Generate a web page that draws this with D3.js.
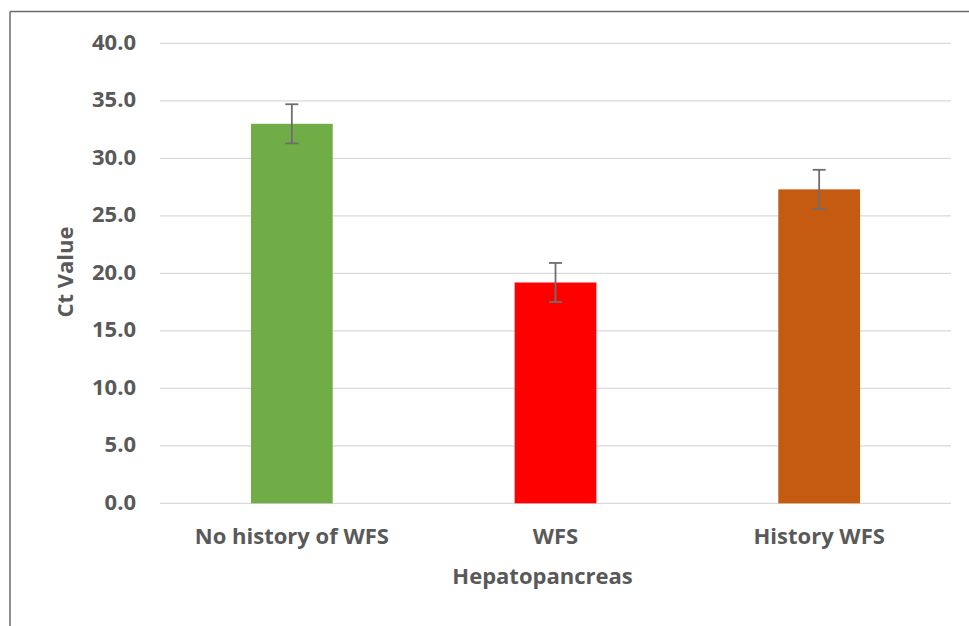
<!DOCTYPE html>
<html>
<head>
<meta charset="utf-8">
<script src="https://cdn.jsdelivr.net/npm/d3@7"></script>
<style>
  html, body { margin: 0; padding: 0; background: #fff; }
  svg { display: block; }
  text { font-family: "Open Sans", "DejaVu Sans", sans-serif; font-weight: bold; fill: #595959; }
</style>
</head>
<body>
<svg id="chart" width="969" height="626"></svg>
<script>
const categories = ["No history of WFS", "WFS", "History WFS"];
const values = [33.0, 19.2, 27.3];
const errors = [1.7, 1.7, 1.7];
const colors = ["#70AD47", "#FF0000", "#C55A11"];
const yTicks = [0, 5, 10, 15, 20, 25, 30, 35, 40];
const yTitle = "Ct Value";
const xTitle = "Hepatopancreas";

const svg = d3.select("#chart");
const W = 969, H = 626;

// frame (top and left edges visible)
svg.append("line").attr("x1", 10).attr("x2", W).attr("y1", 11.5).attr("y2", 11.5)
  .attr("stroke", "#6b6b6b").attr("stroke-width", 1.5);
svg.append("line").attr("x1", 10).attr("x2", 10).attr("y1", 11.5).attr("y2", H)
  .attr("stroke", "#6b6b6b").attr("stroke-width", 1.5);

const plot = { left: 160, right: 951, top: 43.3, bottom: 503.3 };

const x = d3.scaleBand().domain(categories).range([plot.left, plot.right]).padding(0);
const y = d3.scaleLinear().domain([0, 40]).range([plot.bottom, plot.top]);

// gridlines
svg.append("g").selectAll("line").data(yTicks).join("line")
  .attr("x1", plot.left).attr("x2", plot.right)
  .attr("y1", d => y(d)).attr("y2", d => y(d))
  .attr("stroke", "#d9d9d9").attr("stroke-width", 1.2);

// y axis labels
const yAxis = d3.axisLeft(y).tickValues(yTicks).tickFormat(d3.format(".1f")).tickSize(0).tickPadding(0);
const gy = svg.append("g").attr("transform", "translate(136,0)").call(yAxis);
gy.select(".domain").remove();
gy.selectAll("text").attr("font-size", 22).attr("dy", "0.28em")
  .style("font-family", '"Open Sans", sans-serif').style("font-weight", "bold").attr("fill", "#595959");

// bars
const barW = x.bandwidth() * 0.31;
const data = categories.map((c, i) => ({ c, v: values[i], e: errors[i], col: colors[i] }));
svg.append("g").selectAll("rect").data(data).join("rect")
  .attr("x", d => x(d.c) + x.bandwidth() / 2 - barW / 2)
  .attr("width", barW)
  .attr("y", d => y(d.v))
  .attr("height", d => y(0) - y(d.v))
  .attr("fill", d => d.col);

// error bars
const eg = svg.append("g").attr("stroke", "#6e6e6e").attr("stroke-width", 1.8).attr("fill", "none");
data.forEach(d => {
  const cx = x(d.c) + x.bandwidth() / 2;
  eg.append("line").attr("x1", cx).attr("x2", cx).attr("y1", y(d.v + d.e)).attr("y2", y(d.v - d.e));
  [d.v + d.e, d.v - d.e].forEach(v => {
    eg.append("line").attr("x1", cx - 6.5).attr("x2", cx + 6.5).attr("y1", y(v)).attr("y2", y(v));
  });
});

// x axis labels
const xAxis = d3.axisBottom(x).tickSize(0).tickPadding(0);
const gx = svg.append("g").attr("transform", "translate(0,544)").call(xAxis);
gx.select(".domain").remove();
gx.selectAll("text").attr("font-size", 22).attr("dy", 0).attr("y", 0)
  .style("font-family", '"Open Sans", sans-serif').style("font-weight", "bold").attr("fill", "#595959");

// axis titles
svg.append("text").attr("x", 542.5).attr("y", 584).attr("text-anchor", "middle")
  .attr("font-size", 22).text(xTitle);
svg.append("text").attr("transform", "translate(73,272) rotate(-90)").attr("text-anchor", "middle")
  .attr("font-size", 22).text(yTitle);
</script>
</body>
</html>
